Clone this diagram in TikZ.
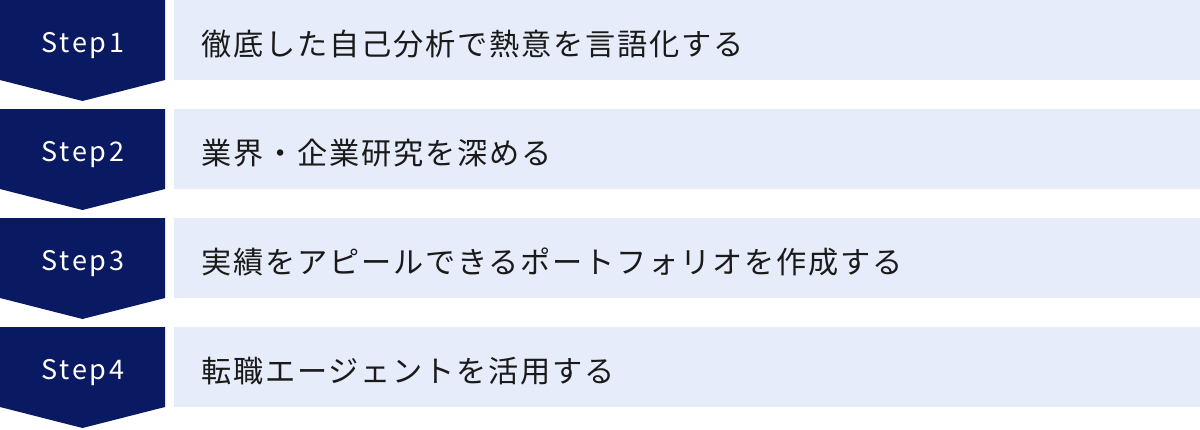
\documentclass[tikz,border=0pt]{standalone}
\usepackage{fontspec}
\newfontfamily\jpfont[LetterSpace=6]{Noto Sans CJK JP}
\newfontfamily\stepfont[LetterSpace=10]{Noto Sans CJK JP}
\definecolor{navy}{HTML}{0A1A62}
\definecolor{paleblue}{HTML}{E6ECF9}
\definecolor{ink}{HTML}{1A1A1A}
\tikzset{
  x=1pt, y=-1pt,
  steplabel/.style={text=white, font=\stepfont\fontsize{27}{30}\selectfont, inner sep=0pt, anchor=base},
  itemtext/.style={text=ink, font=\jpfont\fontsize{30.2}{34}\selectfont, inner sep=0pt, anchor=base west},
}
\begin{document}
\begin{tikzpicture}
\useasboundingbox (0,0) rectangle (1200,429);
\fill[white] (0,0) rectangle (1200,429);
\foreach \t/\n/\txt in {0/1/徹底した自己分析で熱意を言語化する,
                        109/2/業界・企業研究を深める,
                        218/3/実績をアピールできるポートフォリオを作成する,
                        327/4/転職エージェントを活用する}{
  \fill[navy] (0,\t) -- (165,\t) -- (165,\t+80) -- (82.5,\t+101) -- (0,\t+80) -- cycle;
  \fill[paleblue] (174,\t) rectangle (1200,\t+80);
  \node[steplabel] (step\n) at (83,\t+52) {Step\n};
  \node[itemtext] (item\n) at (201,\t+55) {\txt};
}
\end{tikzpicture}
\end{document}
